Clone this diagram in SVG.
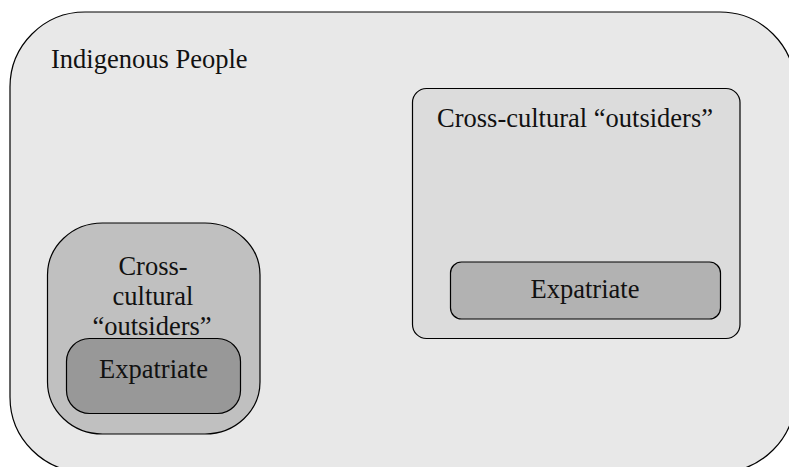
<svg xmlns="http://www.w3.org/2000/svg" width="789" height="467" viewBox="0 0 789 467">
<style>
.box{stroke:#000;stroke-width:1.2}
.t{font-family:"Liberation Serif","Times New Roman",serif;font-size:26.5px;fill:#111}
.c{text-anchor:middle}
</style>
<rect width="789" height="467" fill="#ffffff"/>
<g id="indigenous">
<rect class="box" x="10" y="12" width="785" height="460" rx="75" ry="75" fill="#e8e8e8"/>
<text class="t" x="51" y="68">Indigenous People</text>
</g>
<g id="outsiders-right">
<rect class="box" x="412.5" y="88.5" width="327.5" height="250" rx="14" ry="14" fill="#dcdcdc"/>
<text class="t c" x="575" y="127">Cross-cultural “outsiders”</text>
</g>
<g id="expatriate-right">
<rect class="box" x="450.5" y="262" width="270" height="57" rx="11" ry="11" fill="#b2b2b2"/>
<text class="t c" x="585" y="298">Expatriate</text>
</g>
<g id="outsiders-left">
<rect class="box" x="47.5" y="223" width="212.5" height="211" rx="55" ry="52" fill="#c0c0c0"/>
<text class="t c" x="153" y="275">Cross-</text>
<text class="t c" x="153" y="305">cultural</text>
<text class="t c" x="152" y="335">“outsiders”</text>
</g>
<g id="expatriate-left">
<rect class="box" x="66.5" y="338.5" width="174" height="75" rx="23" ry="23" fill="#989898"/>
<text class="t c" x="153.5" y="378">Expatriate</text>
</g>
<g id="connectors"></g>
</svg>
